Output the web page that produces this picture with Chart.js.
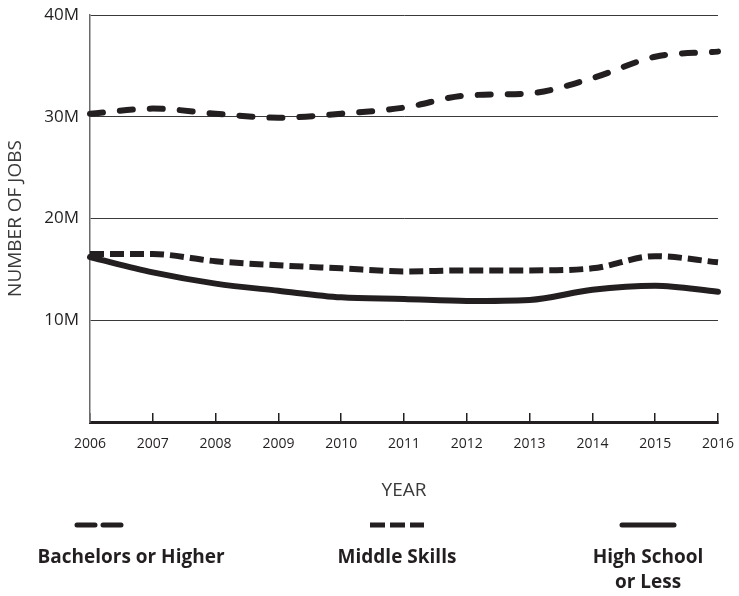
<!DOCTYPE html>
<html>
<head>
<meta charset="utf-8">
<script src="https://cdn.jsdelivr.net/npm/chart.js@4.4.1/dist/chart.umd.min.js"></script>
<style>
  html, body { margin: 0; padding: 0; background: #fff; }
  #wrap { position: relative; width: 739px; height: 596px; }
</style>
</head>
<body>
<div id="wrap"><canvas id="jobsChart"></canvas></div>
<script>
// Jobs by education level, 2006-2016 (millions)
const INK = '#231f20';
const GRID = '#3a3a3a';
const LABEL = '#3a3a3a';

const years = ['2006', '2007', '2008', '2009', '2010', '2011', '2012', '2013', '2014', '2015', '2016'];
const bachelors = [30.3, 30.8, 30.3, 29.9, 30.3, 30.9, 32.1, 32.3, 33.8, 35.9, 36.4];
const middleSkills = [16.5, 16.5, 15.8, 15.4, 15.1, 14.8, 14.9, 14.9, 15.1, 16.3, 15.7];
const highSchool = [16.2, 14.7, 13.6, 12.9, 12.25, 12.1, 11.9, 12.0, 13.0, 13.4, 12.8];
const yTicks = [10, 20, 30, 40];

// legend sits under the chart, one column per series
const legendPlugin = {
  id: 'bottomLegend',
  afterDraw(chart) {
    const ctx = chart.ctx;
    const cols = [
      { x: 100, tx: 131, lines: ['Bachelors or Higher'] },
      { x: 397, tx: 397, lines: ['Middle Skills'] },
      { x: 648, tx: 648, lines: ['High School', 'or Less'] },
    ];
    chart.data.datasets.forEach((ds, i) => {
      const c = cols[i];
      ctx.save();
      ctx.strokeStyle = ds.borderColor;
      ctx.lineWidth = 5;
      ctx.lineCap = ds.borderCapStyle || 'butt';
      ctx.setLineDash(ds.legendDash || []);
      ctx.beginPath();
      ctx.moveTo(c.x - ds.legendHalf, 525);
      ctx.lineTo(c.x + ds.legendHalf, 525);
      ctx.stroke();
      ctx.restore();
      ctx.save();
      ctx.fillStyle = INK;
      ctx.font = 'bold 19px "Open Sans"';
      ctx.textAlign = 'center';
      ctx.textBaseline = 'middle';
      c.lines.forEach((t, k) => ctx.fillText(t, c.tx, 558 + k * 25));
      ctx.restore();
    });
  },
};

new Chart(document.getElementById('jobsChart'), {
  type: 'line',
  data: {
    labels: years,
    datasets: [
      {
        label: 'Bachelors or Higher',
        data: bachelors,
        borderColor: INK,
        borderWidth: 6,
        borderDash: [13, 17],
        borderCapStyle: 'round',
        legendDash: [18, 8],
        legendHalf: 23,
        cubicInterpolationMode: 'monotone',
        pointRadius: 0,
      },
      {
        label: 'Middle Skills',
        data: middleSkills,
        borderColor: INK,
        borderWidth: 6,
        borderDash: [14, 6],
        borderCapStyle: 'butt',
        legendDash: [15, 5],
        legendHalf: 27,
        cubicInterpolationMode: 'monotone',
        pointRadius: 0,
      },
      {
        label: 'High School or Less',
        data: highSchool,
        borderColor: INK,
        borderWidth: 6,
        borderCapStyle: 'round',
        legendHalf: 26,
        cubicInterpolationMode: 'monotone',
        pointRadius: 0,
      },
    ],
  },
  options: {
    responsive: true,
    maintainAspectRatio: false,
    animation: false,
    layout: { padding: { left: 4, right: 21, top: 15, bottom: 94 } },
    plugins: { legend: { display: false }, tooltip: { enabled: false } },
    scales: {
      x: {
        offset: false,
        afterFit(scale) {
          scale.height = 80;
          scale.paddingLeft = 0;
          scale.paddingRight = 0;
        },
        grid: { display: true, drawOnChartArea: false, drawTicks: true, tickLength: -9, color: INK, lineWidth: 1.5 },
        border: { display: true, color: INK, width: 3 },
        ticks: { color: INK, font: { family: 'Open Sans', size: 14 }, padding: 23, maxRotation: 0, autoSkip: false },
        title: {
          display: true,
          text: 'YEAR',
          color: LABEL,
          font: { family: 'Open Sans', size: 19 },
          padding: { top: 0, bottom: 0 },
        },
      },
      y: {
        min: 0,
        max: 40,
        afterBuildTicks(scale) {
          scale.ticks = yTicks.map((v) => ({ value: v }));
        },
        afterFit(scale) {
          scale.width = 86;
          scale.paddingTop = 0;
          scale.paddingBottom = 0;
        },
        grid: { color: GRID, lineWidth: 1, drawTicks: false },
        border: { display: true, color: '#6b6b6b', width: 1.5 },
        ticks: {
          color: INK,
          font: { family: 'Open Sans', size: 17, weight: '500' },
          padding: 11,
          callback: (v) => v + 'M',
        },
        title: {
          display: true,
          text: 'NUMBER OF JOBS',
          color: LABEL,
          font: { family: 'Open Sans', size: 19 },
          padding: { top: 0, bottom: 0 },
        },
      },
    },
  },
  plugins: [legendPlugin],
});
</script>
</body>
</html>
